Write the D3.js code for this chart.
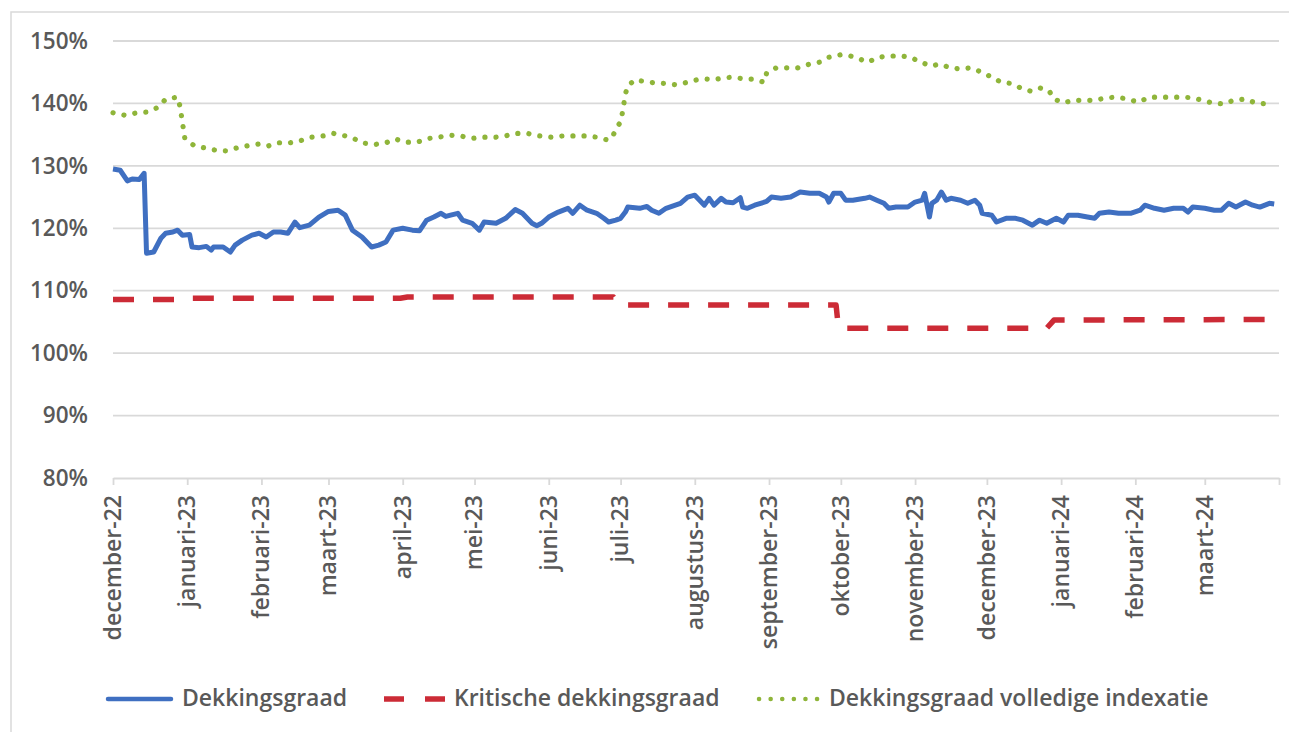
<!DOCTYPE html>
<html lang="nl">
<head>
<meta charset="utf-8">
<title>Dekkingsgraad</title>
<style>
  body { margin: 0; padding: 0; background: #fff; }
  svg { display: block; font-family: "Open Sans", sans-serif; }
</style>
<script src="https://cdn.jsdelivr.net/npm/d3@7"></script>
</head>
<body>
<div id="root"></div>
<script>
// tick labels for the month axis (first of each month)
var monthLabels = ["december-22", "januari-23", "februari-23", "maart-23", "april-23", "mei-23",
  "juni-23", "juli-23", "augustus-23", "september-23", "oktober-23", "november-23",
  "december-23", "januari-24", "februari-24", "maart-24"];
var yTicks = [80, 90, 100, 110, 120, 130, 140, 150];
var seriesNames = ["Dekkingsgraad", "Kritische dekkingsgraad", "Dekkingsgraad volledige indexatie"];

// Dekkingsgraad
var dekkingsgraad = [
  ["2022-12-01",129.5],["2022-12-04",129.3],["2022-12-07",127.6],["2022-12-09",127.9],["2022-12-12",127.8],
  ["2022-12-14",128.8],["2022-12-15",116.0],["2022-12-18",116.2],["2022-12-21",118.4],["2022-12-23",119.2],
  ["2022-12-26",119.4],["2022-12-28",119.7],["2022-12-30",118.9],["2023-01-02",119.0],["2023-01-03",117.0],["2023-01-06",116.9],
  ["2023-01-09",117.1],["2023-01-11",116.5],["2023-01-12",117.0],["2023-01-16",117.0],["2023-01-19",116.2],
  ["2023-01-21",117.3],["2023-01-24",118.1],["2023-01-28",118.9],["2023-01-31",119.2],["2023-02-03",118.6],
  ["2023-02-06",119.4],["2023-02-09",119.4],["2023-02-12",119.2],["2023-02-15",121.0],["2023-02-17",120.1],
  ["2023-02-21",120.5],["2023-02-25",121.8],["2023-03-01",122.7],["2023-03-05",122.9],["2023-03-08",122.1],
  ["2023-03-11",119.7],["2023-03-15",118.6],["2023-03-19",117.0],["2023-03-22",117.3],["2023-03-25",117.8],
  ["2023-03-28",119.7],["2023-04-01",120.0],["2023-04-05",119.7],["2023-04-08",119.6],["2023-04-11",121.3],
  ["2023-04-14",121.8],["2023-04-17",122.4],["2023-04-19",121.9],["2023-04-21",122.1],["2023-04-24",122.4],["2023-04-26",121.3],["2023-04-30",120.8],
  ["2023-05-03",119.7],["2023-05-05",121.0],["2023-05-10",120.8],["2023-05-14",121.6],["2023-05-18",123.0],
  ["2023-05-21",122.4],["2023-05-25",120.8],["2023-05-27",120.4],["2023-05-29",120.8],["2023-06-01",121.8],
  ["2023-06-05",122.6],["2023-06-09",123.2],["2023-06-11",122.4],["2023-06-14",123.7],["2023-06-17",122.9],
  ["2023-06-21",122.4],["2023-06-24",121.6],["2023-06-26",121.0],["2023-06-29",121.3],["2023-07-01",121.6],
  ["2023-07-03",122.6],["2023-07-04",123.4],["2023-07-09",123.2],["2023-07-12",123.5],["2023-07-14",122.9],["2023-07-17",122.4],
  ["2023-07-20",123.2],["2023-07-26",124.0],["2023-07-29",125.0],["2023-08-01",125.3],["2023-08-03",124.5],
  ["2023-08-05",123.7],["2023-08-07",124.8],["2023-08-09",123.7],["2023-08-12",124.8],["2023-08-14",124.2],
  ["2023-08-17",124.1],["2023-08-20",124.9],["2023-08-21",123.4],["2023-08-23",123.2],["2023-08-26",123.7],
  ["2023-08-31",124.3],["2023-09-02",125.0],["2023-09-06",124.8],["2023-09-10",125.0],["2023-09-14",125.8],
  ["2023-09-18",125.6],["2023-09-22",125.6],["2023-09-25",125.0],["2023-09-26",124.2],["2023-09-28",125.6],
  ["2023-10-01",125.6],["2023-10-03",124.5],["2023-10-06",124.5],["2023-10-11",124.8],["2023-10-13",125.0],
  ["2023-10-16",124.5],["2023-10-19",124.0],["2023-10-21",123.2],["2023-10-24",123.4],["2023-10-29",123.4],
  ["2023-11-01",124.2],["2023-11-04",124.5],["2023-11-05",125.6],["2023-11-07",121.8],["2023-11-08",124.0],
  ["2023-11-10",124.5],["2023-11-12",125.8],["2023-11-14",124.5],["2023-11-16",124.8],["2023-11-20",124.5],
  ["2023-11-23",124.0],["2023-11-26",124.5],["2023-11-28",123.7],["2023-11-29",122.4],["2023-12-03",122.1],
  ["2023-12-05",121.0],["2023-12-09",121.6],["2023-12-13",121.6],["2023-12-16",121.3],["2023-12-20",120.5],
  ["2023-12-23",121.3],["2023-12-26",120.8],["2023-12-30",121.6],["2024-01-02",121.0],["2024-01-04",122.1],
  ["2024-01-08",122.1],["2024-01-12",121.8],["2024-01-15",121.6],["2024-01-17",122.4],["2024-01-21",122.6],
  ["2024-01-25",122.4],["2024-01-30",122.4],["2024-02-03",122.9],["2024-02-05",123.7],["2024-02-09",123.2],
  ["2024-02-13",122.9],["2024-02-17",123.2],["2024-02-21",123.2],["2024-02-23",122.6],["2024-02-25",123.4],
  ["2024-03-01",123.2],["2024-03-05",122.9],["2024-03-08",122.9],["2024-03-11",124.0],["2024-03-14",123.4],
  ["2024-03-18",124.2],["2024-03-21",123.7],["2024-03-24",123.4],["2024-03-28",124.0],["2024-03-30",123.9]
];

// Kritische dekkingsgraad (step line)
var kritisch = [
  ["2022-12-01",108.6],["2022-12-31",108.6],["2023-01-02",108.8],["2023-03-31",108.8],["2023-04-03",109.0],
  ["2023-06-28",109.0],["2023-06-30",107.7],["2023-09-29",107.7],["2023-09-30",104.0],["2023-12-26",104.0],
  ["2023-12-29",105.3],["2024-03-30",105.4]
];

// Dekkingsgraad volledige indexatie
var indexatie = [
  ["2022-12-01",138.5],["2022-12-06",138.1],["2022-12-11",138.5],["2022-12-15",138.6],["2022-12-20",139.4],
  ["2022-12-23",140.7],["2022-12-28",141.0],["2022-12-29",139.5],["2022-12-31",134.4],["2023-01-04",133.2],
  ["2023-01-08",132.9],["2023-01-13",132.5],["2023-01-17",132.4],["2023-01-22",132.9],["2023-01-26",133.2],
  ["2023-01-31",133.5],["2023-02-04",133.2],["2023-02-08",133.7],["2023-02-13",133.7],["2023-02-17",134.0],
  ["2023-02-22",134.6],["2023-02-27",134.8],["2023-03-03",135.2],["2023-03-08",134.8],["2023-03-12",134.3],
  ["2023-03-15",133.7],["2023-03-20",133.4],["2023-03-25",133.7],["2023-03-29",134.3],["2023-04-02",133.8],
  ["2023-04-07",133.8],["2023-04-12",134.4],["2023-04-16",134.6],["2023-04-21",134.9],["2023-04-25",134.8],
  ["2023-04-30",134.4],["2023-05-05",134.6],["2023-05-10",134.6],["2023-05-14",134.8],["2023-05-18",135.2],
  ["2023-05-23",135.2],["2023-05-28",134.8],["2023-06-02",134.6],["2023-06-07",134.8],["2023-06-11",134.8],
  ["2023-06-16",134.8],["2023-06-21",134.6],["2023-06-26",134.1],["2023-06-28",135.0],["2023-06-30",136.5],
  ["2023-07-01",137.0],["2023-07-02",139.0],["2023-07-03",141.5],["2023-07-04",142.8],["2023-07-07",143.8],
  ["2023-07-11",143.5],["2023-07-15",143.3],["2023-07-19",143.2],["2023-07-24",143.0],["2023-07-28",143.3],
  ["2023-08-02",143.8],["2023-08-06",143.9],["2023-08-09",143.8],["2023-08-13",144.1],["2023-08-17",144.2],
  ["2023-08-22",143.9],["2023-08-25",143.9],["2023-08-30",143.4],["2023-08-31",144.9],["2023-09-04",145.7],
  ["2023-09-08",145.7],["2023-09-13",145.7],["2023-09-18",146.3],["2023-09-22",146.6],["2023-09-26",147.4],
  ["2023-10-01",147.8],["2023-10-05",147.6],["2023-10-09",147.1],["2023-10-12",146.6],["2023-10-17",147.4],
  ["2023-10-21",147.6],["2023-10-26",147.6],["2023-10-30",147.4],["2023-11-04",146.5],["2023-11-08",146.0],
  ["2023-11-11",146.3],["2023-11-16",145.7],["2023-11-20",145.5],["2023-11-24",145.7],["2023-11-29",145.0],
  ["2023-12-03",144.2],["2023-12-07",143.4],["2023-12-11",143.2],["2023-12-15",142.5],["2023-12-19",142.0],
  ["2023-12-23",142.5],["2023-12-27",142.0],["2023-12-29",140.7],["2024-01-02",140.1],["2024-01-06",140.5],
  ["2024-01-10",140.5],["2024-01-15",140.5],["2024-01-20",140.9],["2024-01-24",141.0],["2024-01-29",140.7],
  ["2024-02-02",140.2],["2024-02-07",141.0],["2024-02-11",141.0],["2024-02-16",141.0],["2024-02-21",141.0],
  ["2024-02-25",140.9],["2024-02-29",140.5],["2024-03-04",140.1],["2024-03-09",139.9],["2024-03-13",140.5],
  ["2024-03-18",140.7],["2024-03-22",140.1],["2024-03-27",139.9],["2024-03-30",139.9]
];

var W = 1289, H = 732;
var plotL = 113, plotR = 1279, plotT = 41, plotB = 478;
var textCol = "#595959", gridCol = "#d9d9d9";
var fontW = 600;
var parse = d3.timeParse("%Y-%m-%d");

var svg = d3.select("#root").append("svg")
  .attr("width", W).attr("height", H);

svg.append("rect").attr("width", W).attr("height", H).attr("fill", "#fff");
// chart frame
svg.append("rect")
  .attr("x", 11).attr("y", 12).attr("width", W).attr("height", H)
  .attr("fill", "none").attr("stroke", gridCol).attr("stroke-width", 1.5);

var x = d3.scaleTime()
  .domain([parse("2022-12-01"), parse("2024-04-01")])
  .range([plotL, plotR]);
var y = d3.scaleLinear().domain([80, 150]).range([plotB, plotT]);

// gridlines
svg.append("g").selectAll("line")
  .data(yTicks.slice(1))
  .enter().append("line")
  .attr("x1", plotL).attr("x2", plotR)
  .attr("y1", function(d) { return y(d); }).attr("y2", function(d) { return y(d); })
  .attr("stroke", gridCol).attr("stroke-width", 1.8);

// y axis labels
var yAxis = d3.axisLeft(y)
  .tickValues(yTicks)
  .tickSize(0)
  .tickPadding(0)
  .tickFormat(function(d) { return d + "%"; });
var gy = svg.append("g").attr("transform", "translate(88,0)").call(yAxis);
gy.select(".domain").remove();
gy.selectAll("text")
  .attr("fill", textCol)
  .style("font-size", "22.5px")
  .style("font-weight", fontW)
  .style("font-family", "'Open Sans', sans-serif");

// x axis
var months = d3.timeMonth.range(parse("2022-12-01"), parse("2024-04-02"));
var xAxis = d3.axisBottom(x)
  .tickValues(months)
  .tickSizeInner(7).tickSizeOuter(0)
  .tickFormat(function(d, i) { return monthLabels[i] || ""; });
var gx = svg.append("g").attr("transform", "translate(0," + plotB + ")").call(xAxis);
gx.select(".domain").attr("stroke", gridCol).attr("stroke-width", 1.8);
gx.selectAll(".tick line").attr("stroke", gridCol).attr("stroke-width", 1.8);
gx.selectAll("text")
  .attr("fill", textCol)
  .style("font-size", "23px")
  .style("font-weight", fontW)
  .style("font-family", "'Open Sans', sans-serif")
  .attr("transform", "rotate(-90)")
  .attr("text-anchor", "end")
  .attr("x", -17).attr("y", 0).attr("dy", "0.32em");

// lines
var line = d3.line()
  .x(function(d) { return x(parse(d[0])); })
  .y(function(d) { return y(d[1]); });

svg.append("path").datum(indexatie)
  .attr("d", line).attr("fill", "none")
  .attr("stroke", "#8fb53a").attr("stroke-width", 5.2)
  .attr("stroke-linecap", "round")
  .attr("stroke-dasharray", "0.1,11");

svg.append("path").datum(kritisch)
  .attr("d", line).attr("fill", "none")
  .attr("stroke", "#cc2b36").attr("stroke-width", 5.5)
  .attr("stroke-linejoin", "round")
  .attr("stroke-dasharray", "21,19");

svg.append("path").datum(dekkingsgraad)
  .attr("d", line).attr("fill", "none")
  .attr("stroke", "#3f6fc1").attr("stroke-width", 5)
  .attr("stroke-linejoin", "round");

// legend
var legendItems = [
  { name: seriesNames[0], x: 108, tx: 182, color: "#3f6fc1", dash: null, w: 4.5, cap: "round" },
  { name: seriesNames[1], x: 384, tx: 454, color: "#cc2b36", dash: "20,21", w: 5.5, cap: "butt" },
  { name: seriesNames[2], x: 759, tx: 829, color: "#8fb53a", dash: "0.1,11.5", w: 4.5, cap: "round" }
];
var lg = svg.append("g").selectAll("g").data(legendItems).enter().append("g");
lg.append("line")
  .attr("x1", function(d) { return d.x; })
  .attr("x2", function(d) { return d.x + 63; })
  .attr("y1", 699).attr("y2", 699)
  .attr("stroke", function(d) { return d.color; })
  .attr("stroke-width", function(d) { return d.w; })
  .attr("stroke-linecap", function(d) { return d.cap; })
  .attr("stroke-dasharray", function(d) { return d.dash; });
lg.append("text")
  .attr("x", function(d) { return d.tx; })
  .attr("y", 706)
  .attr("fill", textCol)
  .style("font-size", "23px")
  .style("font-weight", fontW)
  .text(function(d) { return d.name; });
</script>
</body>
</html>
